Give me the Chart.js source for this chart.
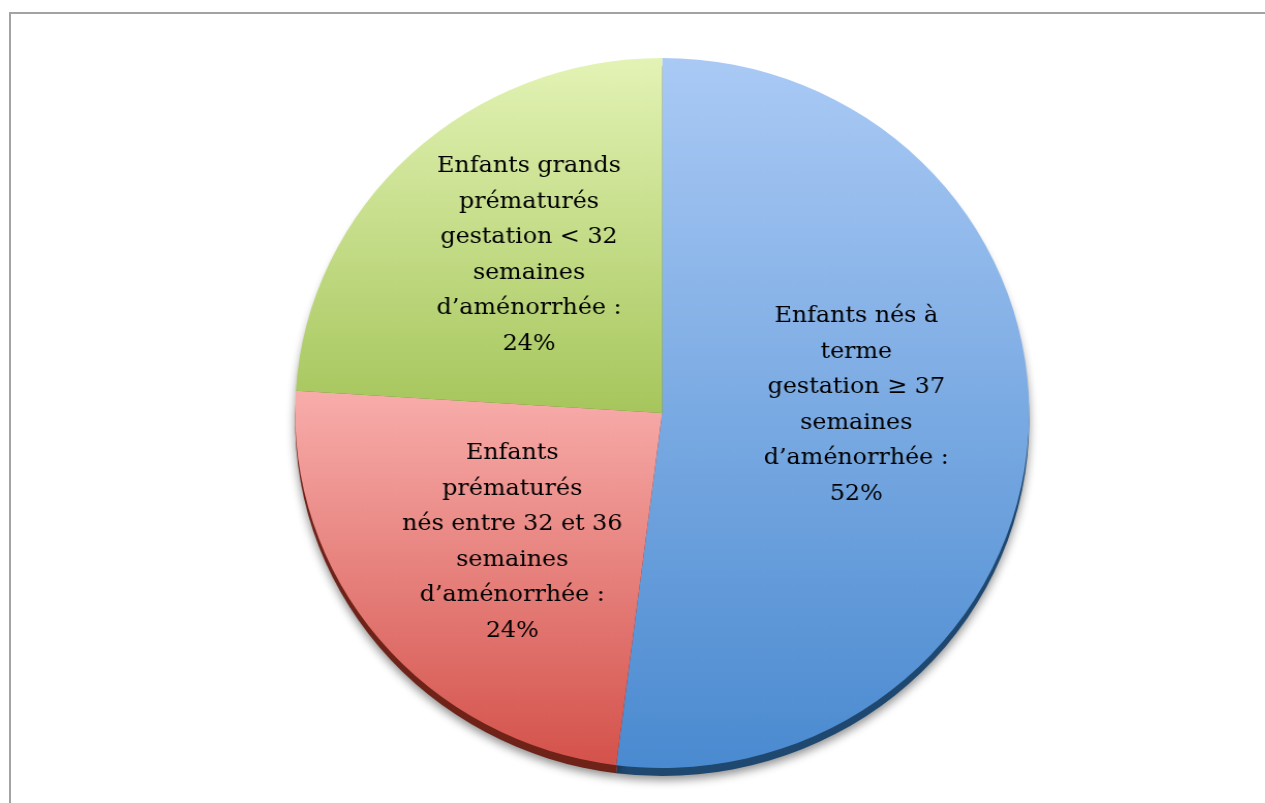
<!DOCTYPE html>
<html>
<head>
<meta charset="utf-8">
<script src="https://cdn.jsdelivr.net/npm/chart.js@4"></script>
<style>
  body { margin: 0; background: #fff; overflow: hidden; }
  #frame {
    position: absolute; left: 9px; top: 12px; width: 1270px; height: 810px;
    border-left: 2px solid #a3a3a3; border-top: 2px solid #a3a3a3;
  }
  /* the pie in the reference is a little wider than tall */
  #wrap {
    position: absolute; left: 0; top: 0; width: 1224px; height: 803px;
    transform: scaleX(1.0338); transform-origin: 0 0;
  }
</style>
</head>
<body>
<div id="frame"></div>
<div id="wrap"><canvas id="myChart"></canvas></div>
<script>
// categories (one line per entry, as written in the slices)
const cat_terme = ['Enfants nés à', 'terme', 'gestation ≥ 37', 'semaines', 'd’aménorrhée :'];
const cat_moyens = ['Enfants', 'prématurés', 'nés entre 32 et 36', 'semaines', 'd’aménorrhée :'];
const cat_grands = ['Enfants grands', 'prématurés', 'gestation < 32', 'semaines', 'd’aménorrhée :'];
const categories = [cat_terme, cat_moyens, cat_grands];

// percentages
const values = [52, 24, 24];

// slice colours: gradient top / bottom, and the dark side of the 3D edge
const topColors = ['#aacaf5', '#f8adab', '#e3f3b5'];
const bottomColors = ['#4a8ad0', '#d4524b', '#a6c65c'];
const edgeColors = ['#1f4870', '#6e2218', '#5f7a2c'];

const EDGE = 8;
// small vertical nudge of each slice's text block
const labelNudgeY = [-20, 9, -21];

// angles of a slice, from the values
function sliceAngles(i) {
    const total = values.reduce(function (a, b) { return a + b; }, 0);
    let before = 0;
    for (let k = 0; k < i; k++) before += values[k];
    const start = -Math.PI / 2 + 2 * Math.PI * before / total;
    const end = start + 2 * Math.PI * values[i] / total;
    return [start, end];
}

function sliceGradient(context) {
    const chart = context.chart;
    const area = chart.chartArea;
    const i = context.dataIndex;
    if (!area) {
        return bottomColors[i];
    }
    const cy = (area.top + area.bottom) / 2;
    const r = Math.min(area.right - area.left, area.bottom - area.top) / 2;
    const a = sliceAngles(i);
    // vertical extent of the slice
    let minY = cy, maxY = cy;
    for (let t = 0; t <= 60; t++) {
        const y = cy + Math.sin(a[0] + (a[1] - a[0]) * t / 60) * r;
        minY = Math.min(minY, y);
        maxY = Math.max(maxY, y);
    }
    const g = chart.ctx.createLinearGradient(0, minY, 0, maxY);
    g.addColorStop(0, topColors[i]);
    g.addColorStop(1, bottomColors[i]);
    return g;
}

// dark side of the pie + soft shadow, drawn under the slices
const edgePlugin = {
    id: 'edge',
    beforeDatasetsDraw(chart) {
        const ctx = chart.ctx;
        const meta = chart.getDatasetMeta(0);
        ctx.save();
        ctx.shadowColor = 'rgba(0,0,0,0.45)';
        ctx.shadowBlur = 10;
        ctx.shadowOffsetY = 4;
        meta.data.forEach(function (arc, i) {
            const p = arc.getProps(['x', 'y', 'startAngle', 'endAngle', 'outerRadius']);
            ctx.beginPath();
            ctx.moveTo(p.x, p.y + EDGE);
            ctx.arc(p.x, p.y + EDGE, p.outerRadius, p.startAngle, p.endAngle);
            ctx.closePath();
            ctx.fillStyle = edgeColors[i];
            ctx.fill();
        });
        ctx.restore();
    }
};

// text inside each slice
const sliceLabels = {
    id: 'sliceLabels',
    afterDraw(chart) {
        const ctx = chart.ctx;
        const meta = chart.getDatasetMeta(0);
        ctx.save();
        ctx.font = '23px "DejaVu Serif"';
        ctx.fillStyle = '#000';
        ctx.textAlign = 'center';
        ctx.textBaseline = 'middle';
        const lineHeight = 35.5;
        meta.data.forEach(function (arc, i) {
            const p = arc.getProps(['x', 'y', 'startAngle', 'endAngle', 'outerRadius']);
            const mid = (p.startAngle + p.endAngle) / 2;
            const r = p.outerRadius * 0.53;
            const cx = p.x + Math.cos(mid) * r;
            const cy = p.y + Math.sin(mid) * r + labelNudgeY[i];
            const lines = categories[i].concat([values[i] + '%']);
            const y0 = cy - (lines.length - 1) * lineHeight / 2;
            for (let k = 0; k < lines.length; k++) {
                ctx.fillText(lines[k], cx, y0 + k * lineHeight);
            }
        });
        ctx.restore();
    }
};

const ctx = document.getElementById('myChart').getContext('2d');
const myChart = new Chart(ctx, {
    type: 'pie',
    data: {
        labels: categories.map(function (c) { return c.join(' '); }),
        datasets: [{
            data: values,
            backgroundColor: sliceGradient,
            borderWidth: 0
        }]
    },
    options: {
        responsive: true,
        maintainAspectRatio: false,
        animation: false,
        layout: {
            padding: { top: 58, bottom: 35, left: 57, right: 0 }
        },
        plugins: {
            legend: { display: false },
            tooltip: { enabled: false }
        }
    },
    plugins: [edgePlugin, sliceLabels]
});
</script>
</body>
</html>
